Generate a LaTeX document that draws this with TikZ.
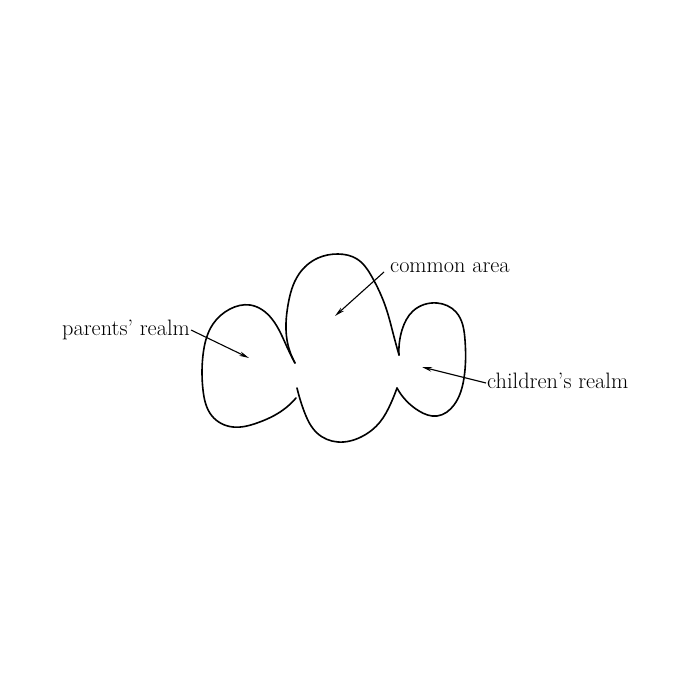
\documentclass[tikz,border=0pt]{standalone}
\usetikzlibrary{arrows.meta,hobby}
\begin{document}
\begin{tikzpicture}[x=1pt,y=-1pt,
  outline/.style={line width=1.6pt,line cap=round,line join=round,use Hobby shortcut},
  pointer/.style={line width=1.1pt,-{Stealth[length=10pt,width=4.5pt]}},
  lbl/.style={font=\fontsize{22.3}{26}\selectfont,inner sep=0pt}]
\useasboundingbox (0,0) rectangle (700,700);
% outline
\draw[outline] (296,398) .. (283,410) .. (257,423) .. (233,427) .. (212,416) .. (203,390) .. (203,355) .. (213,324) .. (230,309) .. (250,305) .. (272,319) .. (287,347) .. (295,363);
\draw[outline] (295,363) .. (287,340) .. (288,305) .. (299,274) .. (318,258) .. (338,254) .. (357,259) .. (372,277) .. (386,308) .. (393,333) .. (399,355);
\draw[outline] (399,355) .. (402,330) .. (413,311) .. (437,303) .. (456,312) .. (465,340) .. (464,378) .. (454,405) .. (437,416) .. (419,411) .. (397,388);
\draw[outline] (397,388) .. (391,403) .. (380,422) .. (361,437) .. (338,442) .. (317,433) .. (304,411) .. (297,388);
% labels
\node[lbl,anchor=base west] (ca) at (390,272) {common area};
\node[lbl,anchor=base east] (pr) at (190,335) {parents' realm};
\node[lbl,anchor=base west] (cr) at (487,388) {children's realm};
% arrow ends
\coordinate (caT) at (384,272);
\coordinate (caH) at (335,316);
\coordinate (prT) at (191,330);
\coordinate (prH) at (249,358);
\coordinate (crT) at (486,383);
\coordinate (crH) at (422,367);
\draw[pointer] (caT) -- (caH);
\draw[pointer] (prT) -- (prH);
\draw[pointer] (crT) -- (crH);
\end{tikzpicture}
\end{document}
